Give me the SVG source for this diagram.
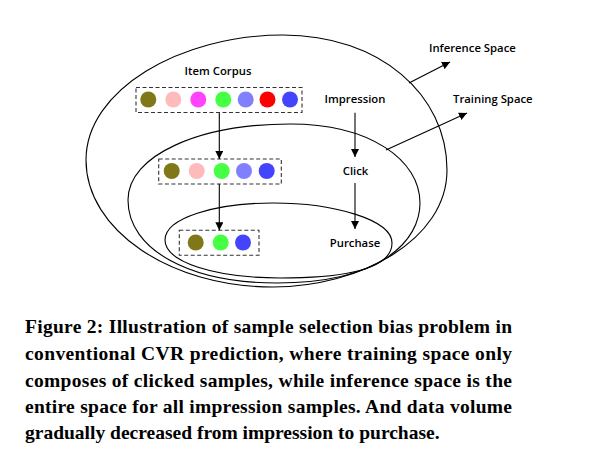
<svg xmlns="http://www.w3.org/2000/svg" width="608" height="459" viewBox="0 0 608 459">
<style>
.sp{fill:none;stroke:#000;stroke-width:1.1}
.box{fill:none;stroke:#333;stroke-width:1.1;stroke-dasharray:4 2.5}
.lbl{font-family:"Open Sans","DejaVu Sans",sans-serif;font-weight:600;font-size:11.3px;fill:#000;text-anchor:middle}
.lbl2{font-family:"Open Sans","DejaVu Sans",sans-serif;font-weight:600;font-size:11.3px;fill:#000}
.cap{font-family:"Liberation Serif","Times New Roman",serif;font-weight:bold;font-size:19.5px;fill:#000}
.ar{stroke:#000;stroke-width:1.1;fill:none}
.ol{fill:#807818}.pk{fill:#ffbbbb}.mg{fill:#ff44ff}.gr{fill:#44ff44}.lb{fill:#8080ff}.rd{fill:#ff0000}.bl{fill:#4444ff}
</style>
<defs>
<marker id="ah" viewBox="0 0 10 10" refX="10" refY="5" markerWidth="8" markerHeight="8" markerUnits="userSpaceOnUse" orient="auto">
<path d="M0,0 L10,5 L0,10 Z" fill="#000"/>
</marker>
</defs>
<g id="inference-space">
<path class="sp" d="M86,160 C86,90 180,35 283,35 C380,35 447,95 447,170 C447,240 360,287 273,287 C170,287 86,230 86,160 Z"/>
</g>
<g id="training-space">
<path class="sp" d="M128,200 C128,155 200,124 290,124 C370,124 420,160 420,203 C420,240 382,283 277,283 C190,283 128,250 128,200 Z"/>
</g>
<g id="purchase-space">
<path class="sp" d="M165,240 C165,218 215,203 273,203 C335,203 392,220 392,243 C392,258 378,278 280,278 C215,278 165,262 165,240 Z"/>
</g>
<g id="item-corpus">
<text class="lbl" x="218" y="75">Item Corpus</text>
<rect class="box" x="136" y="87.5" width="166" height="25"/>
<circle class="ol" cx="148.3" cy="99.5" r="8"/>
<circle class="pk" cx="173.3" cy="99.5" r="8"/>
<circle class="mg" cx="198.3" cy="99.5" r="8"/>
<circle class="gr" cx="223.3" cy="99.5" r="8"/>
<circle class="lb" cx="245.7" cy="99.5" r="8"/>
<circle class="rd" cx="267.5" cy="99.5" r="8"/>
<circle class="bl" cx="290" cy="99.5" r="8"/>
</g>
<g id="clicked-items">
<rect class="box" x="158.7" y="159" width="122.6" height="25"/>
<circle class="ol" cx="171.7" cy="171" r="8"/>
<circle class="pk" cx="196.7" cy="171" r="8"/>
<circle class="gr" cx="221.7" cy="171" r="8"/>
<circle class="lb" cx="244" cy="171" r="8"/>
<circle class="bl" cx="266.7" cy="171" r="8"/>
</g>
<g id="purchased-items">
<rect class="box" x="179.3" y="230.3" width="79.7" height="25"/>
<circle class="ol" cx="195.7" cy="242.5" r="8"/>
<circle class="gr" cx="220.7" cy="242.5" r="8"/>
<circle class="bl" cx="243" cy="242.5" r="8"/>
</g>
<g id="impression"><text class="lbl" x="355" y="103">Impression</text></g>
<g id="click"><text class="lbl" x="355.5" y="175">Click</text></g>
<g id="purchase"><text class="lbl" x="355" y="246.5">Purchase</text></g>
<g id="inference-label"><text class="lbl2" x="429" y="52">Inference Space</text></g>
<g id="training-label"><text class="lbl2" x="453" y="103">Training Space</text></g>
<g id="connectors">
<line class="ar" x1="219.3" y1="112.7" x2="219.3" y2="159" marker-end="url(#ah)"/>
<line class="ar" x1="219.3" y1="184" x2="219.3" y2="230.3" marker-end="url(#ah)"/>
<line class="ar" x1="355" y1="112.7" x2="355" y2="157" marker-end="url(#ah)"/>
<line class="ar" x1="355" y1="183" x2="355" y2="229" marker-end="url(#ah)"/>
<line class="ar" x1="409" y1="83" x2="450" y2="62" marker-end="url(#ah)"/>
<line class="ar" x1="386" y1="150" x2="467" y2="113" marker-end="url(#ah)"/>
</g>
<g id="caption">
<text class="cap" x="25" y="333" textLength="487" lengthAdjust="spacing">Figure 2: Illustration of sample selection bias problem in</text>
<text class="cap" x="25" y="360" textLength="487" lengthAdjust="spacing">conventional CVR prediction, where training space only</text>
<text class="cap" x="25" y="386.5" textLength="487" lengthAdjust="spacing">composes of clicked samples, while inference space is the</text>
<text class="cap" x="25" y="412.7" textLength="487" lengthAdjust="spacing">entire space for all impression samples. And data volume</text>
<text class="cap" x="25" y="439">gradually decreased from impression to purchase.</text>
</g>
</svg>
